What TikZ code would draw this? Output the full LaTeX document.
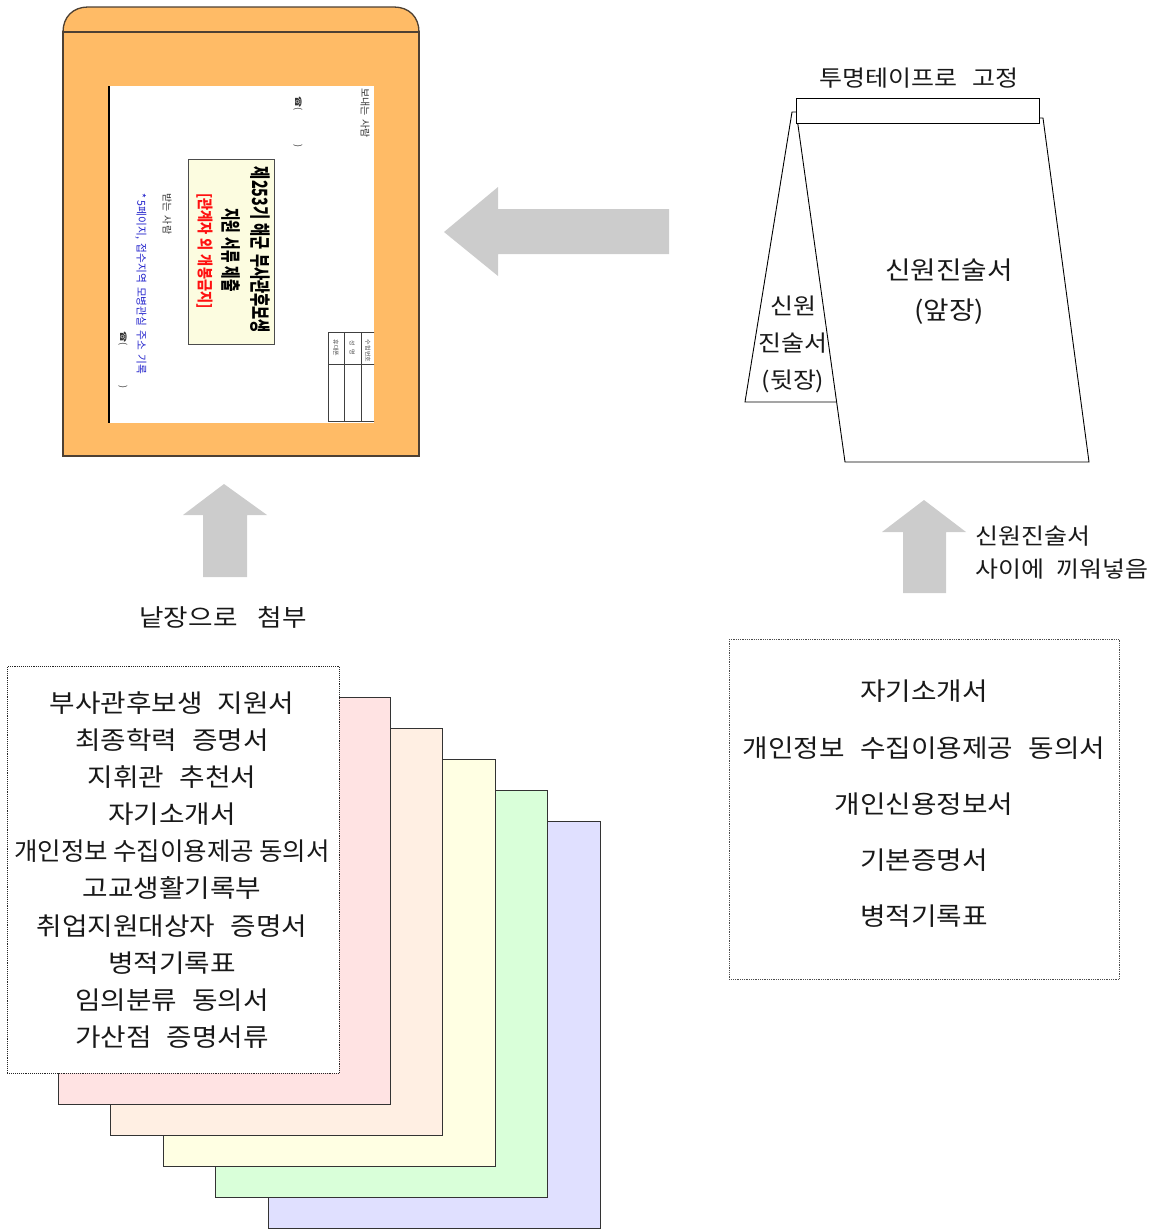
\documentclass[tikz,border=0pt]{standalone}
\usepackage{fontspec}
\setmainfont{Noto Sans CJK KR}
\newfontfamily\symfont{DejaVu Sans}
\newcommand\gp[1]{\hspace{#1em}}
\definecolor{envorange}{HTML}{FFBB66}
\definecolor{envline}{HTML}{4D4033}
\definecolor{arrowgray}{HTML}{CCCCCC}
\definecolor{labelyellow}{HTML}{FCFCE0}
\definecolor{pinkp}{HTML}{FFE3E3}
\definecolor{peachp}{HTML}{FFEFE3}
\definecolor{yellowp}{HTML}{FFFFE3}
\definecolor{greenp}{HTML}{D9FFD9}
\definecolor{bluep}{HTML}{E0E0FF}
\definecolor{redtxt}{HTML}{FF1010}
\definecolor{bluetxt}{HTML}{2424CC}
\begin{document}
\begin{tikzpicture}[x=1pt,y=-1pt,
  rot/.style={rotate=-90, inner sep=0pt},
  txt/.style={inner sep=0pt, text=black!90, xscale=1.11},
  sheet/.style={draw=black!80, line width=0.9pt, anchor=north west, minimum width=332pt, minimum height=407pt, inner sep=0pt},
  blockarrow/.style={fill=arrowgray, draw=none},
  paper/.style={draw=black, line width=0.9pt, fill=white}]
\useasboundingbox (0,0) rectangle (1160,1229);

% ---------------- envelope ----------------
\draw[envline, line width=1.3pt, fill=envorange] (63,32) .. controls (63,17) and (73,7) .. (88,7) -- (394,7) .. controls (409,7) and (419,17) .. (419,32) -- cycle;
\draw[envline, line width=1.3pt, fill=envorange] (63,32) rectangle (419,456);
\fill[white] (109,86) rectangle (374,423);
\draw[black, line width=1.2pt] (109,86) -- (109,423);
\begin{scope}
  \clip (109,86) rectangle (374,423);
  \draw[black!75, line width=0.8pt] (328,332) rectangle (392,421);
  \draw[black!75, line width=0.8pt] (344,332) -- (344,421);
  \draw[black!75, line width=0.8pt] (361,332) -- (361,421);
  \draw[black!75, line width=0.8pt] (328,364) -- (392,364);
  \node[rot, font=\fontsize{6}{6}\selectfont, text=black!70] (th1) at (336,348) {휴대폰};
  \node[rot, font=\fontsize{6}{6}\selectfont, text=black!70] (th2) at (352,348) {성\gp{0.6}명};
  \node[rot, font=\fontsize{6}{6}\selectfont, text=black!70] (th3) at (368,351) {수험번호};
\end{scope}
\node[draw=black!70, line width=1pt, fill=labelyellow, minimum width=86pt, minimum height=185pt, inner sep=0pt] (lbl) at (231,251.5) {};
\node[rot, font=\bfseries\fontsize{21}{21}\selectfont, xscale=0.68] (t1) at (260,250) {제253기\gp{0.3}해군\gp{0.3}부사관후보생};
\node[rot, font=\bfseries\fontsize{20}{20}\selectfont, xscale=0.68] (t2) at (231,250) {지원\gp{0.3}서류\gp{0.3}제출};
\node[rot, font=\bfseries\fontsize{16}{16}\selectfont, xscale=0.82, text=redtxt] (t3) at (205,251) {[관계자\gp{0.3}외\gp{0.3}개봉금지]};
\node[rot, font=\fontsize{10}{10}\selectfont, xscale=1.0, text=black!80] (snd) at (365,113) {보내는\gp{0.4}사람};
\node[rot, font=\fontsize{9}{9}\selectfont, text=black!80] (ph1) at (298,122) {{\symfont ☎}(\hspace{34pt})};
\node[rot, font=\fontsize{10}{10}\selectfont, xscale=1.0, text=black!80] (rcv) at (167,214) {받는\gp{0.4}사람};
\node[rot, font=\fontsize{11}{11}\selectfont, xscale=0.97, text=bluetxt] (note) at (141,284) {*\gp{0.2}5페이지,\gp{0.4}접수지역\gp{0.4}모병관실\gp{0.4}주소\gp{0.4}기록};
\node[rot, font=\fontsize{9}{9}\selectfont, text=black!80] (ph2) at (123,360) {{\symfont ☎}(\hspace{40pt})};

% ---------------- arrows ----------------
\fill[blockarrow] (444,232) -- (498,187) -- (498,209) -- (669,209) -- (669,254) -- (498,254) -- (498,276) -- cycle;
\fill[blockarrow] (224,484) -- (267,515) -- (247,515) -- (247,577) -- (203,577) -- (203,515) -- (183,515) -- cycle;
\fill[blockarrow] (924,500) -- (966,532) -- (946,532) -- (946,593) -- (903,593) -- (903,532) -- (882,532) -- cycle;

\node[txt, font=\fontsize{24}{24}\selectfont] (attach) at (223,617) {낱장으로\gp{0.75}첨부};
\node[txt, font=\fontsize{22.5}{33}\selectfont, align=left, anchor=west] (insert) at (975,553) {신원진술서\\사이에\gp{0.5}끼워넣음};

% ---------------- personal statement sheets ----------------
\draw[paper] (792,112) -- (799,112) -- (837,402) -- (745,402) -- cycle;
\draw[paper] (797,118) -- (1043,118) -- (1089,462) -- (845,462) -- cycle;
\node[paper, minimum width=243pt, minimum height=25pt, inner sep=0pt, anchor=north west] (tape) at (796,98) {};
\node[txt, font=\fontsize{22.5}{22.5}\selectfont] (tapelbl) at (919,78) {투명테이프로\gp{0.6}고정};
\node[txt, font=\fontsize{25}{40}\selectfont, align=center] (front) at (949,292) {신원진술서\\(앞장)};
\node[txt, font=\fontsize{22.5}{37}\selectfont, align=center] (back) at (793,344) {신원\\진술서\\(뒷장)};

% ---------------- stacked documents ----------------
\node[sheet, fill=bluep] (s6) at (268,821) {};
\node[sheet, fill=greenp] (s5) at (215,790) {};
\node[sheet, fill=yellowp] (s4) at (163,759) {};
\node[sheet, fill=peachp] (s3) at (110,728) {};
\node[sheet, fill=pinkp] (s2) at (58,697) {};
\node[sheet, fill=white, densely dotted, draw=black!85] (s1) at (7,666) {};
\node[txt, font=\fontsize{25}{37.1}\selectfont, align=center] (list1) at (172,870) {부사관후보생\gp{0.55}지원서\\최종학력\gp{0.55}증명서\\지휘관\gp{0.55}추천서\\자기소개서\\\scalebox{0.92}[1]{개인정보\gp{0.2}수집이용제공\gp{0.2}동의서}\\고교생활기록부\\취업지원대상자\gp{0.55}증명서\\병적기록표\\임의분류\gp{0.55}동의서\\가산점\gp{0.55}증명서류};

% ---------------- inserted documents box ----------------
\node[draw=black!70, densely dotted, line width=0.8pt, anchor=north west, minimum width=390pt, minimum height=340pt, inner sep=0pt] (box2) at (729,639) {};
\node[txt, font=\fontsize{25}{56.25}\selectfont, align=center] (list2) at (924,804) {자기소개서\\개인정보\gp{0.55}수집이용제공\gp{0.55}동의서\\개인신용정보서\\기본증명서\\병적기록표};
\end{tikzpicture}
\end{document}
